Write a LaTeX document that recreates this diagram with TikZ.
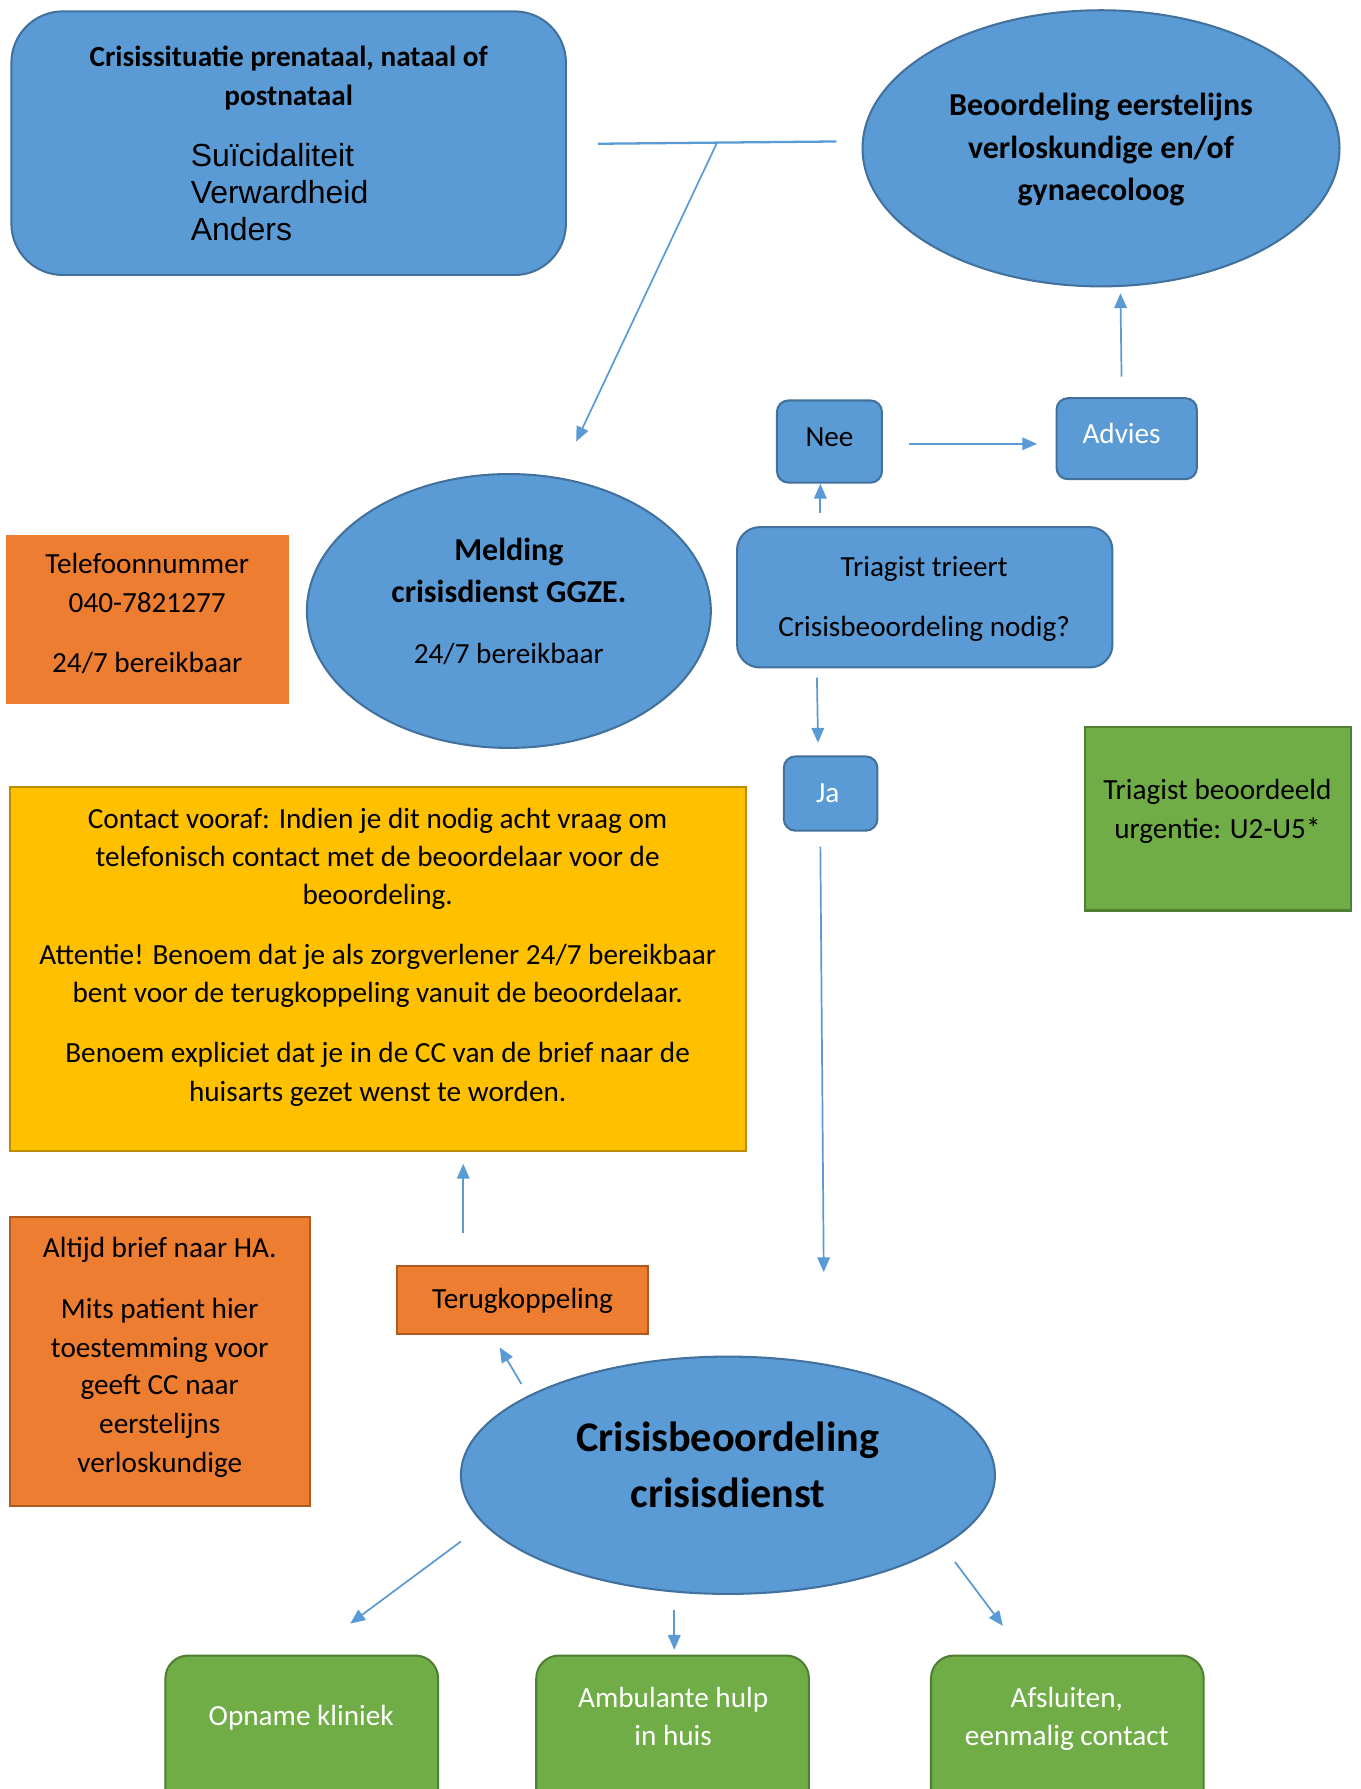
\documentclass[tikz,border=0pt]{standalone}
\usepackage{fontspec}
\setmainfont{Carlito}
\newfontfamily\arialf{Liberation Sans}
\usetikzlibrary{arrows.meta,shapes.geometric}
\definecolor{bfill}{HTML}{5B9BD5}
\definecolor{bline}{HTML}{41719C}
\definecolor{ofill}{HTML}{ED7D31}
\definecolor{oline}{HTML}{AE5A21}
\definecolor{yfill}{HTML}{FFC000}
\definecolor{yline}{HTML}{BC8C00}
\definecolor{gfill}{HTML}{70AD47}
\definecolor{gline}{HTML}{507E32}
\begin{document}
\begin{tikzpicture}[x=1pt,y=-1pt,
  bluebox/.style={draw=bline,fill=bfill,line width=1.8pt,inner sep=0pt},
  ell/.style={ellipse,draw=bline,fill=bfill,line width=1.8pt,inner sep=0pt},
  orbox/.style={draw=oline,fill=ofill,line width=1.8pt,inner sep=0pt},
  grbox/.style={draw=gline,fill=gfill,line width=1.8pt,inner sep=0pt},
  arr/.style={draw=bfill,line width=1.5pt,-{Triangle[length=13pt,width=11pt]}},
  plain/.style={draw=bfill,line width=2pt},
  txt/.style={inner sep=0pt,anchor=base,yshift=-1.5pt,font=\fontsize{25.6}{31}\selectfont},
  btxt/.style={inner sep=0pt,anchor=base,yshift=-1.5pt,font=\fontsize{25.6}{31}\selectfont\bfseries},
  bbtxt/.style={inner sep=0pt,anchor=base,yshift=-1.5pt,font=\fontsize{28}{34}\selectfont\bfseries},
  hbtxt/.style={inner sep=0pt,anchor=base,yshift=-2pt,font=\fontsize{37}{44}\selectfont\bfseries},
  atxt/.style={inner sep=0pt,anchor=base west,yshift=-1pt,font=\fontsize{28}{33}\selectfont\arialf},
]
\fill[white] (0,0) rectangle (1192,1568);
\useasboundingbox (0,0) rectangle (1192,1568);
\clip (0,0) rectangle (1192,1568);

% shapes
\node[bluebox,rounded corners=45pt,minimum width=486pt,minimum height=231pt] (crisis) at (253,125.5) {};
\node[ell,minimum width=418pt,minimum height=242pt] (beo) at (965,130) {};
\node[ell,minimum width=354pt,minimum height=240pt] (meld) at (446,535.5) {};
\node[bluebox,rounded corners=10pt,minimum width=92pt,minimum height=72pt] (nee) at (727,387) {};
\node[bluebox,rounded corners=10pt,minimum width=123pt,minimum height=71pt] (adv) at (987.5,384.5) {};
\node[bluebox,rounded corners=20pt,minimum width=329pt,minimum height=123pt] (tri) at (810.5,523.5) {};
\node[bluebox,rounded corners=10pt,minimum width=82pt,minimum height=65pt] (ja) at (728,695.5) {};
\node[grbox,minimum width=233pt,minimum height=161pt] (urg) at (1067.5,717.5) {};
\node[fill=ofill,inner sep=0pt,minimum width=248pt,minimum height=148pt] (tel) at (129,543) {};
\node[draw=yline,fill=yfill,line width=1.8pt,inner sep=0pt,minimum width=645pt,minimum height=319pt] (geel) at (331.5,849.5) {};
\node[orbox,minimum width=263pt,minimum height=253pt] (brief) at (140.5,1193.5) {};
\node[orbox,minimum width=220pt,minimum height=59pt] (terug) at (458,1139.5) {};
\node[ell,minimum width=468pt,minimum height=208pt] (cbeo) at (638,1293) {};
\node[grbox,rounded corners=20pt,minimum width=239pt,minimum height=160pt] (opn) at (264.5,1531) {};
\node[grbox,rounded corners=20pt,minimum width=239pt,minimum height=160pt] (amb) at (589.5,1531) {};
\node[grbox,rounded corners=20pt,minimum width=239pt,minimum height=160pt] (afs) at (935.5,1531) {};

% texts
\node[btxt] (t1) at (253,57) {Crisissituatie prenataal, nataal of};
\node[btxt] (t2) at (253,91) {postnataal};
\node[atxt] (t3) at (167,145) {Suïcidaliteit};
\node[atxt] (t4) at (167,177) {Verwardheid};
\node[atxt] (t5) at (167,210) {Anders};

\node[bbtxt] (b1) at (965,100) {Beoordeling eerstelijns};
\node[bbtxt] (b2) at (965,137) {verloskundige en/of};
\node[bbtxt] (b3) at (965,174) {gynaecoloog};

\node[bbtxt] (m1) at (446,490) {Melding};
\node[bbtxt] (m2) at (446,527) {crisisdienst GGZE.};
\node[txt] (m3) at (446,580) {24/7 bereikbaar};

\node[txt] (n1) at (727,390) {Nee};
\node[txt,text=white] (a1t) at (983,387) {Advies};
\node[txt] (tr1) at (810,504) {Triagist trieert};
\node[txt] (tr2) at (810,556) {Crisisbeoordeling nodig?};
\node[txt,text=white] (jt) at (725.5,702) {Ja};
\node[txt] (u1) at (1067,699) {Triagist beoordeeld};
\node[txt] (u2) at (1067,733) {urgentie: U2-U5*};

\node[txt] (te1) at (129,501) {Telefoonnummer};
\node[txt] (te2) at (129,535) {040-7821277};
\node[txt] (te3) at (129,588) {24/7 bereikbaar};

\node[txt] (y1) at (331,725) {Contact vooraf: Indien je dit nodig acht vraag om};
\node[txt] (y2) at (331,758) {telefonisch contact met de beoordelaar voor de};
\node[txt] (y3) at (331,791) {beoordeling.};
\node[txt] (y4) at (331,844) {Attentie! Benoem dat je als zorgverlener 24/7 bereikbaar};
\node[txt] (y5) at (331,877) {bent voor de terugkoppeling vanuit de beoordelaar.};
\node[txt] (y6) at (331,930) {Benoem expliciet dat je in de CC van de brief naar de};
\node[txt] (y7) at (331,964) {huisarts gezet wenst te worden.};

\node[txt] (h1) at (140,1101) {Altijd brief naar HA.};
\node[txt] (h2) at (140,1154) {Mits patient hier};
\node[txt] (h3) at (140,1188) {toestemming voor};
\node[txt] (h4) at (140,1221) {geeft CC naar};
\node[txt] (h5) at (140,1255) {eerstelijns};
\node[txt] (h6) at (140,1289) {verloskundige};

\node[txt] (tk) at (458,1145) {Terugkoppeling};

\node[hbtxt] (c1) at (638,1270) {Crisisbeoordeling};
\node[hbtxt] (c2) at (638,1319) {crisisdienst};

\node[txt,text=white] (o1) at (264,1511) {Opname kliniek};
\node[txt,text=white] (am1) at (590,1495) {Ambulante hulp};
\node[txt,text=white] (am2) at (590,1528) {in huis};
\node[txt,text=white] (af1) at (935,1495) {Afsluiten,};
\node[txt,text=white] (af2) at (935,1528) {eenmalig contact};

% connector end points
\coordinate (l1) at (524,126);
\coordinate (l2) at (733,124);
\coordinate (jn) at (628,126);
\coordinate (p1) at (505,387);
\coordinate (p2a) at (797,389);
\coordinate (p2b) at (909,389);
\coordinate (p3a) at (983,330);
\coordinate (p3b) at (982,257);
\coordinate (p4a) at (719,450);
\coordinate (p4b) at (719,424);
\coordinate (p5a) at (716,594);
\coordinate (p5b) at (717,651);
\coordinate (p6a) at (719,742);
\coordinate (p6b) at (722,1115);
\coordinate (p7a) at (406,1081);
\coordinate (p7b) at (406,1020);
\coordinate (p8a) at (457,1213);
\coordinate (p8b) at (438,1181);
\coordinate (p9a) at (404,1351);
\coordinate (p9b) at (307,1423);
\coordinate (p10a) at (591,1411);
\coordinate (p10b) at (591,1446);
\coordinate (p11a) at (837,1369);
\coordinate (p11b) at (879,1425);

\draw[plain] (l1) -- (l2);
\draw[arr] (jn) -- (p1);
\draw[arr] (p2a) -- (p2b);
\draw[arr] (p3a) -- (p3b);
\draw[arr] (p4a) -- (p4b);
\draw[arr] (p5a) -- (p5b);
\draw[arr] (p6a) -- (p6b);
\draw[arr] (p7a) -- (p7b);
\draw[arr] (p8a) -- (p8b);
\draw[arr] (p9a) -- (p9b);
\draw[arr] (p10a) -- (p10b);
\draw[arr] (p11a) -- (p11b);
\end{tikzpicture}
\end{document}
